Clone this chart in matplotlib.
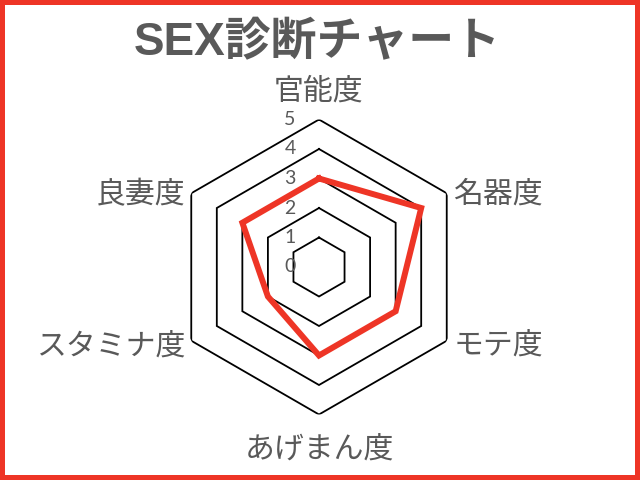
import numpy as np
import matplotlib
matplotlib.use("Agg")
import matplotlib.pyplot as plt
from matplotlib.patches import Rectangle

plt.rcParams['font.family'] = ['Noto Sans CJK JP', 'DejaVu Sans']

title = "SEX診断チャート"
categories = ["官能度", "名器度", "モテ度", "あげまん度", "スタミナ度", "良妻度"]
values = [3, 4, 3, 3, 2, 3]
levels = [1, 2, 3, 4, 5]
tick_labels = ["0", "1", "2", "3", "4", "5"]

GRAY = "#595959"
RED = "#EE3526"

fig = plt.figure(figsize=(6.4, 4.8), dpi=100)
fig.patch.set_facecolor("white")

W, H = 640, 480
cx, cy, R = 319, 267, 147.5
ax = fig.add_axes([(cx - R) / W, (H - cy - R) / H, 2 * R / W, 2 * R / H], projection="polar")
ax.set_theta_zero_location("N")
ax.set_theta_direction(-1)
ax.set_ylim(0, 5)
ax.grid(False)
ax.spines["polar"].set_visible(False)
ax.set_xticks([])
ax.set_yticks([])
ax.patch.set_alpha(0)

n = len(categories)
angles = np.arange(n) * 2 * np.pi / n
closed = np.concatenate([angles, angles[:1]])

for lv in levels:
    ax.plot(closed, [lv] * (n + 1), color="black", lw=1.3, solid_joinstyle="miter", zorder=2)

vals = list(values) + [values[0]]
ax.plot(closed, vals, color=RED, lw=4.3, solid_joinstyle="miter", zorder=3)

px = 72 / 100
# radial tick labels
for i, t in enumerate(tick_labels):
    ax.annotate(t, xy=(0, i), xytext=(-29 * px, 0), textcoords="offset points",
                ha="center", va="center", fontsize=14, color=GRAY,
                family=["Lato", "DejaVu Sans"], zorder=4)

offsets = [((0, 28), "center"), ((6, -1), "left"), ((7, -5), "left"),
           ((0, -36), "center"), ((-6, -6), "right"), ((-6, -1), "right")]
for ang, lab, ((dx, dy), ha) in zip(angles, categories, offsets):
    ax.annotate(lab, xy=(ang, 5), xytext=(dx * px, dy * px), textcoords="offset points",
                ha=ha, va="center", fontsize=21.5, color=GRAY, annotation_clip=False)

fig.text(317 / W, 1 - 43 / H, title, ha="center", va="center", fontsize=33,
         fontweight="bold", color=GRAY, family=["Liberation Sans", "Noto Sans CJK JP"])

fig.patches.append(Rectangle((0, 0), 1, 1, transform=fig.transFigure, fill=False,
                             edgecolor=RED, lw=7.2, clip_on=False))

fig.savefig("out.png", dpi=100)
